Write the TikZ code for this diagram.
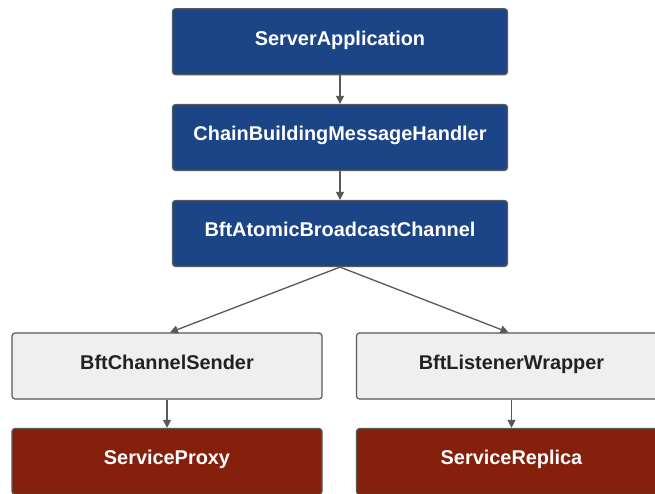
\documentclass[tikz,border=0pt]{standalone}
\usepackage{fontspec}
\setmainfont{Liberation Sans}
\usetikzlibrary{arrows.meta}
\definecolor{navy}{HTML}{1C4587}
\definecolor{berry}{HTML}{85200C}
\definecolor{paper}{HTML}{EFEFEF}
\definecolor{edge}{HTML}{595959}
\definecolor{ink}{HTML}{222222}
\begin{document}
\begin{tikzpicture}[x=1pt,y=-1pt,
  box/.style={draw=edge, line width=1.2pt, rounded corners=3pt, minimum height=66pt,
    inner sep=0pt, text height=15pt, text depth=8.4pt,
    font=\fontsize{19.9}{22}\selectfont\bfseries},
  core/.style={box, fill=navy, text=white, minimum width=335pt},
  side/.style={box, fill=paper, text=ink, minimum width=310pt},
  base/.style={box, fill=berry, text=white, minimum width=310pt},
  link/.style={draw=edge, line width=1.3pt, -{Triangle[length=8pt,width=8pt]}}]
\useasboundingbox (0,0) rectangle (655,493);
\clip (0,0) rectangle (655,493);
\fill[white] (0,0) rectangle (655,493);

% top column
\node[core] (app)     at (340,41.7)  {ServerApplication};
\node[core] (handler) at (340,137.5) {ChainBuildingMessageHandler};
\node[core] (channel) at (340,233.5) {BftAtomicBroadcastChannel};

% middle row
\node[side] (sender)   at (167,366)   {BftChannelSender};
\node[side] (listener) at (511.5,366) {BftListenerWrapper};

% bottom row
\node[base] (proxy)   at (167,461.5)   {ServiceProxy};
\node[base] (replica) at (511.5,461.5) {ServiceReplica};

\draw[link] (app) -- (handler);
\draw[link] (handler) -- (channel);
\draw[link] (channel.south) -- ([xshift=3pt]sender.north);
\draw[link] (channel.south) -- ([xshift=-3pt]listener.north);
\draw[link] (sender) -- (proxy);
\draw[link] (listener) -- (replica);
\end{tikzpicture}
\end{document}
